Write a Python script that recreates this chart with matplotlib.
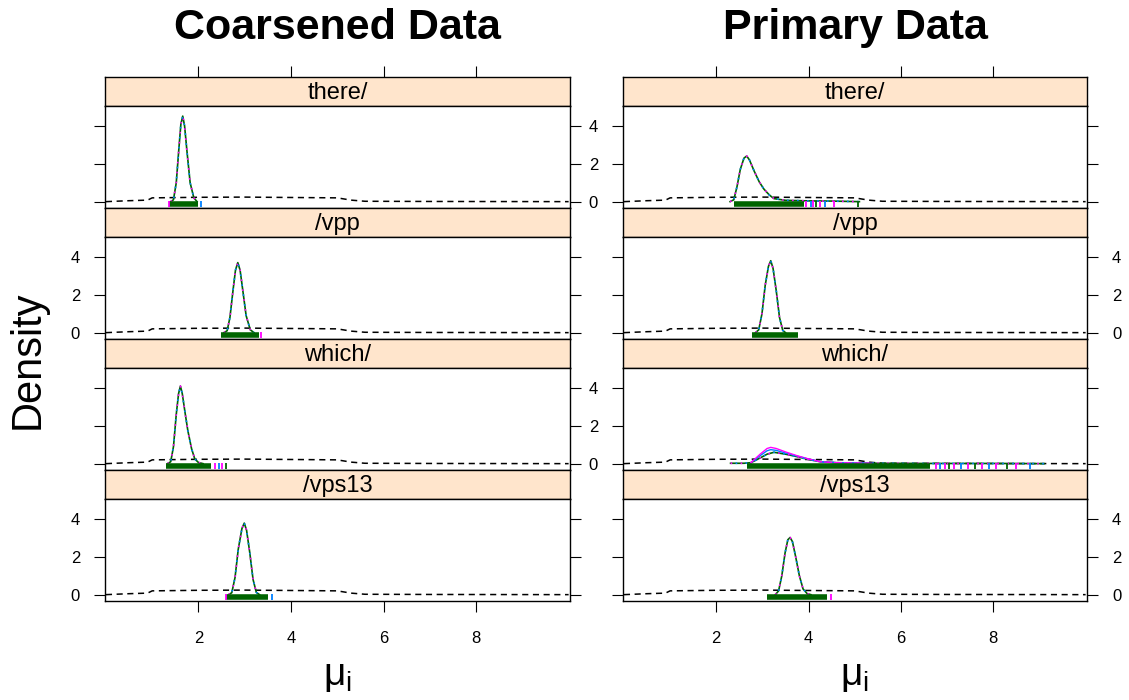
import matplotlib
matplotlib.use("Agg")
import matplotlib.pyplot as plt

plt.rcParams['font.family'] = ['Liberation Sans', 'DejaVu Sans']
plt.rcParams['mathtext.fontset'] = 'custom'
plt.rcParams['mathtext.rm'] = 'Liberation Sans'
plt.rcParams['mathtext.it'] = 'Liberation Sans'

# ---- data ----
panel_names = ['there/', '/vpp', 'which/', '/vps13']
titles = ['Coarsened Data', 'Primary Data']

# prior density (dashed), same in every panel
prior_x = [0.0, 0.5, 0.9, 1.0, 2.0, 3.0, 4.0, 5.0, 5.3, 5.6, 7.0, 10.0]
prior_y = [0.0, 0.05, 0.08, 0.2, 0.23, 0.24, 0.22, 0.2, 0.08, 0.02, 0.01, 0.0]

# coarsened data, posterior densities
coarse_x = [
    [1.40, 1.46, 1.52, 1.58, 1.62, 1.66, 1.70, 1.75, 1.82, 1.90, 1.97],
    [2.55, 2.62, 2.68, 2.75, 2.80, 2.85, 2.90, 2.96, 3.03, 3.12, 3.20],
    [1.33, 1.40, 1.46, 1.52, 1.57, 1.61, 1.65, 1.71, 1.77, 1.85, 1.92, 2.00, 2.10],
    [2.65, 2.72, 2.79, 2.86, 2.94, 2.99, 3.04, 3.11, 3.18, 3.25, 3.32],
]
coarse_y = [
    [0, 0.1, 1.0, 2.9, 4.1, 4.52, 4.0, 2.7, 1.0, 0.2, 0],
    [0, 0.1, 0.8, 2.3, 3.3, 3.7, 3.3, 2.2, 0.9, 0.15, 0],
    [0, 0.1, 0.9, 2.6, 3.7, 4.1, 3.7, 2.7, 1.75, 0.8, 0.25, 0.06, 0],
    [0, 0.1, 0.9, 2.4, 3.5, 3.78, 3.4, 2.2, 0.8, 0.12, 0],
]

# primary data, posterior densities
primary_x = [
    [2.30, 2.38, 2.45, 2.52, 2.60, 2.66, 2.72, 2.82, 2.93, 3.03, 3.15, 3.25, 3.50, 4.00, 4.50, 5.10],
    [2.85, 2.92, 2.99, 3.06, 3.13, 3.18, 3.23, 3.30, 3.37, 3.44, 3.50],
    [2.31, 2.60, 2.75, 2.95, 3.10, 3.25, 3.50, 3.75, 4.00, 4.26, 4.60, 5.00, 5.40, 6.50, 8.00, 9.10],
    [3.28, 3.35, 3.42, 3.49, 3.55, 3.60, 3.65, 3.72, 3.80, 3.88, 3.97, 4.05],
]
primary_y = [
    [0, 0.1, 0.8, 1.7, 2.3, 2.41, 2.2, 1.62, 1.05, 0.67, 0.35, 0.16, 0.07, 0.04, 0.03, 0],
    [0, 0.15, 1.0, 2.5, 3.5, 3.8, 3.4, 2.2, 0.8, 0.12, 0],
    [0.02, 0.02, 0.05, 0.3, 0.5, 0.6, 0.5, 0.37, 0.22, 0.1, 0.05, 0.03, 0.02, 0.01, 0.01, 0.0],
    [0, 0.2, 1.0, 2.2, 2.9, 3.02, 2.8, 2.0, 1.0, 0.3, 0.05, 0],
]
# other chains in primary which/ (visibly different)
which_chain2_x = [2.75, 2.95, 3.10, 3.18, 3.30, 3.50, 3.75, 4.00, 4.26, 4.60, 5.00, 5.40]
which_chain2_y = [0.05, 0.5, 0.8, 0.86, 0.8, 0.62, 0.42, 0.25, 0.1, 0.05, 0.03, 0.01]
which_chain3_y = [0.05, 0.42, 0.68, 0.74, 0.7, 0.56, 0.4, 0.24, 0.1, 0.05, 0.03, 0.01]

# rug: dense range and sparse outer ticks
coarse_rug = [(1.36, 2.00), (2.49, 3.30), (1.30, 2.27), (2.59, 3.50)]
coarse_rug_extra = [[1.36, 2.05], [3.35], [2.35, 2.45, 2.50, 2.59], [2.59, 3.60]]
primary_rug = [(2.38, 3.90), (2.78, 3.76), (2.67, 6.64), (3.10, 4.40)]
primary_rug_extra = [
    [3.95, 4.05, 4.10, 4.15, 4.25, 4.35, 4.54, 5.06],
    [],
    [6.75, 6.85, 6.95, 7.05, 7.15, 7.30, 7.45, 7.60, 7.75, 7.90, 8.05, 8.30, 8.50, 8.80],
    [4.48],
]

W, H = 1129, 700
fig = plt.figure(figsize=(W / 100, H / 100), dpi=100)

col_x = [(105, 570), (623, 1087)]
row_top = 76.7
row_step = 131
strip_h = 29
xlim = (-0.02, 10.03)
ylim = (-0.32, 5.07)
strip_col = '#ffe5cc'
extra_cols = ['#ff00ff', '#0080ff', '#ff00ff', '#006400']


def add_ax(x0, x1, top, bot):
    return fig.add_axes([x0 / W, 1 - bot / H, (x1 - x0) / W, (bot - top) / H])


for c in range(2):
    x0, x1 = col_x[c]
    xs = coarse_x if c == 0 else primary_x
    ys = coarse_y if c == 0 else primary_y
    rugs = coarse_rug if c == 0 else primary_rug
    rug_extra = coarse_rug_extra if c == 0 else primary_rug_extra
    for r in range(4):
        st = row_top + row_step * r
        # strip
        sax = add_ax(x0, x1, st, st + strip_h)
        sax.set_facecolor(strip_col)
        sax.set_xlim(xlim)
        sax.set_yticks([])
        sax.text(0.5, 0.45, panel_names[r], transform=sax.transAxes,
                 ha='center', va='center', fontsize=17)
        if r == 0:
            sax.set_xticks([2, 4, 6, 8])
            sax.tick_params(axis='x', bottom=False, top=True, labelbottom=False,
                            direction='out', length=8, width=0.8)
        else:
            sax.set_xticks([])
        for sp in sax.spines.values():
            sp.set_linewidth(1.0)

        # data panel
        ax = add_ax(x0, x1, st + strip_h, st + row_step)
        ax.set_xlim(xlim)
        ax.set_ylim(ylim)
        ax.plot(prior_x, prior_y, color='black', lw=1.1, ls=(0, (4, 3)))
        ax.plot(xs[r], ys[r], color='#006400', lw=1.2)
        if c == 1 and r == 2:
            ax.plot(which_chain2_x, which_chain3_y, color='#0080ff', lw=1)
            ax.plot(which_chain2_x, which_chain2_y, color='#ff00ff', lw=1)
        ax.plot(xs[r], ys[r], color='#ff00ff', lw=1.2, ls=(0, (1, 5)))
        ax.plot(xs[r], ys[r], color='#0080ff', lw=1.2, ls=(3, (1, 5)))
        lo, hi = rugs[r]
        ax.hlines(-0.14, lo, hi, color='#006400', lw=4)
        ax.vlines(rug_extra[r], -0.3, 0.04,
                  colors=[extra_cols[i % 4] for i in range(len(rug_extra[r]))], lw=1.3)

        ax.set_yticks([0, 2, 4])
        left_lab = (c == 0 and r in (1, 3)) or (c == 1 and r in (0, 2))
        right_lab = c == 1 and r in (1, 3)
        ax.tick_params(axis='y', left=True, right=True, labelleft=left_lab,
                       labelright=right_lab, direction='out', length=8,
                       width=0.8, pad=10, labelsize=12)
        if r == 3:
            ax.set_xticks([2, 4, 6, 8])
            ax.tick_params(axis='x', direction='out', length=8, width=0.8,
                           pad=14, labelsize=12)
        else:
            ax.set_xticks([])
        for sp in ax.spines.values():
            sp.set_linewidth(1.0)

    cx = (x0 + x1) / 2 / W
    fig.text(cx, 1 - 28 / H, titles[c], ha='center', va='center',
             fontsize=31, fontweight='bold')
    fig.text(cx, 1 - 676 / H, r'$\mathrm{\mu_i}$', ha='center', va='center',
             fontsize=28)

fig.text(28 / W, 1 - 360 / H, 'Density', rotation=90, ha='center',
         va='center', fontsize=30)

fig.savefig('out.png', dpi=100)
